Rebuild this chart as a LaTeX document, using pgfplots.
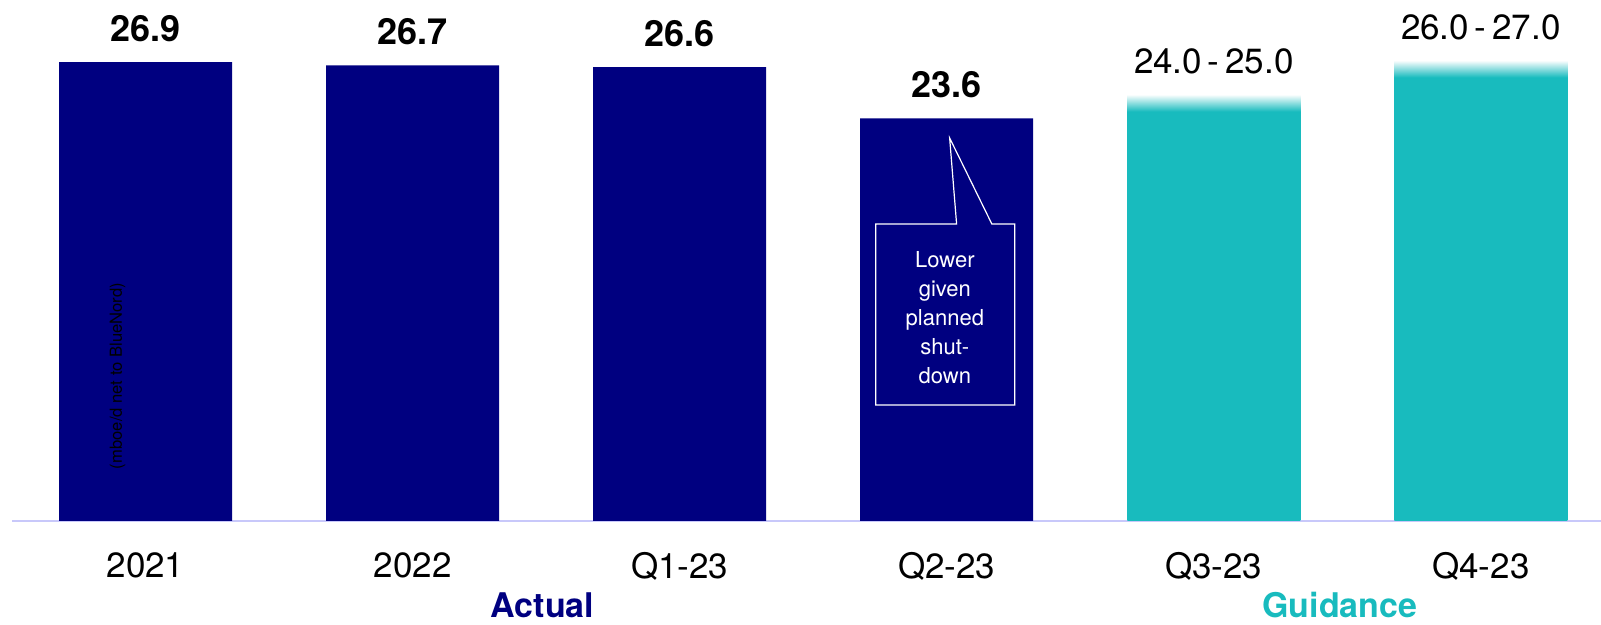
\documentclass[border=0pt]{standalone}
\usepackage{fontspec}
\setmainfont{TeX Gyre Heros}
\usepackage{pgfplots}
\pgfplotsset{compat=1.18}
\definecolor{navyc}{HTML}{000080}
\definecolor{tealc}{HTML}{18BBBE}
\definecolor{basec}{HTML}{C8C8FA}
\pgfdeclareverticalshading{fadeA}{100bp}{color(0bp)=(tealc); color(73bp)=(tealc); color(75bp)=(white); color(100bp)=(white)}
\pgfdeclareverticalshading{fadeB}{100bp}{color(0bp)=(tealc); color(73.15bp)=(tealc); color(75bp)=(white); color(100bp)=(white)}
\begin{document}
\begin{tikzpicture}
\useasboundingbox (-6pt,-52pt) rectangle (794.5pt,260.5pt);
\begin{axis}[
  at={(0,0)}, anchor=south west,
  scale only axis, width=794.5pt, height=260.5pt,
  xmin=-0.5, xmax=5.45, ymin=0, ymax=30.54,
  axis x line*=bottom, axis y line=none,
  x axis line style={draw=basec, line width=1pt},
  xtick={0,...,5}, xticklabels={2021,2022,Q1-23,Q2-23,Q3-23,Q4-23},
  major tick length=0pt,
  xticklabel style={font=\fontsize{17.5}{20}\selectfont, inner sep=0pt, anchor=north, yshift=-15.5pt},
  ytick=\empty,
  clip=false,
  nodes near coords style={inner sep=0pt, anchor=south, yshift=10pt, text=black},
]
\addplot[ybar, bar width=86.5pt, fill=navyc, draw=none,
  point meta=explicit symbolic, nodes near coords,
  nodes near coords style={font=\bfseries\fontsize{18}{20}\selectfont}]
  coordinates {(0,26.9) [26.9] (1,26.7) [26.7] (2,26.6) [26.6] (3,23.6) [23.6]};
\addplot[ybar, bar width=86.5pt, shade, shading=fadeA, draw=none,
  point meta=explicit symbolic, nodes near coords,
  nodes near coords style={font=\fontsize{17.5}{20}\selectfont}]
  coordinates {(4,25) [24.0\,-\,25.0]};
\addplot[ybar, bar width=86.5pt, shade, shading=fadeB, draw=none,
  point meta=explicit symbolic, nodes near coords,
  nodes near coords style={font=\fontsize{17.5}{20}\selectfont}]
  coordinates {(5,27) [26.0\,-\,27.0]};

\node[rotate=90, font=\fontsize{8.3}{10}\selectfont, text=black] at (axis cs:-0.105,8.5) {(mboe/d net to BlueNord)};

\draw[white, fill=navyc, line width=0.6pt]
  (axis cs:2.734,17.41) -- (axis cs:3.037,17.41) -- (axis cs:3.011,22.45) -- (axis cs:3.169,17.41)
  -- (axis cs:3.255,17.41) -- (axis cs:3.255,6.80) -- (axis cs:2.734,6.80) -- cycle;
\node[text=white, align=center, font=\fontsize{11}{14.5}\selectfont] at (axis cs:2.993,11.9)
  {Lower\\given\\planned\\shut-\\down};

\node[font=\bfseries\fontsize{17}{20}\selectfont, text=navyc] at (axis cs:1.487,-4.95) {Actual};
\node[font=\bfseries\fontsize{17}{20}\selectfont, text=tealc] at (axis cs:4.472,-4.95) {Guidance};
\end{axis}
\end{tikzpicture}
\end{document}
